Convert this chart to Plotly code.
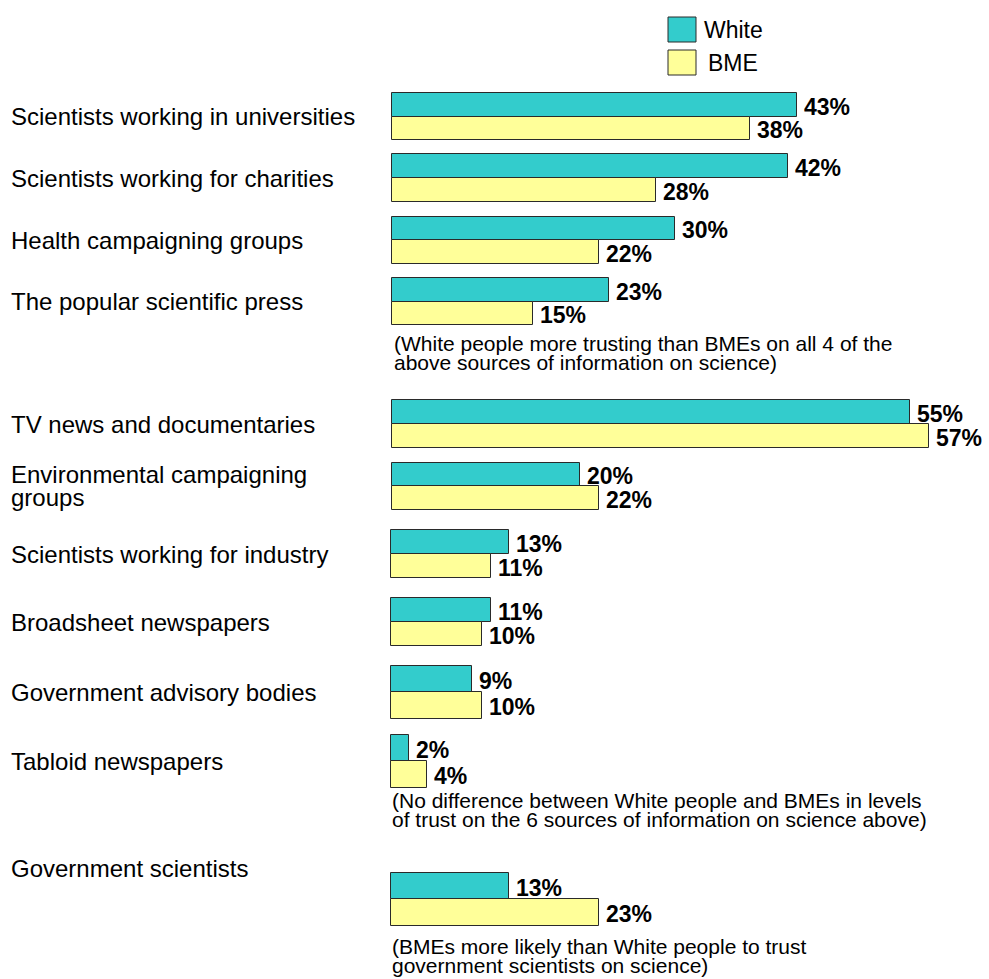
import plotly.graph_objects as go

# ---- data ----
categories = [
    "Scientists working in universities",
    "Scientists working for charities",
    "Health campaigning groups",
    "The popular scientific press",
    "TV news and documentaries",
    "Environmental campaigning\ngroups",
    "Scientists working for industry",
    "Broadsheet newspapers",
    "Government advisory bodies",
    "Tabloid newspapers",
    "Government scientists",
]
white = [43, 42, 30, 23, 55, 20, 13, 11, 9, 2, 13]
bme = [38, 28, 22, 15, 57, 22, 11, 10, 10, 4, 23]
series_names = ["White", "BME"]
notes = [
    "(White people more trusting than BMEs on all 4 of the\nabove sources of information on science)",
    "(No difference between White people and BMEs in levels\nof trust on the 6 sources of information on science above)",
    "(BMEs more likely than White people to trust\ngovernment scientists on science)",
]

# ---- layout (page pixel units) ----
W, H = 989, 979
ROW_CENTER = [116.5, 178, 240, 301.5, 424, 486, 554, 622, 692, 761, 899]
BAR_H = [23.5, 24, 23.5, 23.5, 24, 23.5, 24, 24, 26.5, 26.5, 26.5]
LABEL_SHIFT = [0, 0, 0, 0, 0, 0, 0, 0, 0, 0, -31]
UPPER_ROWS = 6  # first rows use the upper x scale
NOTE_Y = [343, 800, 946]
NOTE_X = [392, 390, 390]
LINE_GAP = 19

WHITE_C, BME_C, EDGE = "#33CCCC", "#FFFF99", "#2a2a2a"
FONT = "Liberation Sans, Arial, sans-serif"

# x scales: origin pixel and pixels per percent
X0_UP, K_UP = 392, 9.42
X0_LO, K_LO = 391, 9.05

fig = go.Figure()

groups = [(range(0, UPPER_ROWS), "x"), (range(UPPER_ROWS, len(categories)), "x2")]
for vals, color, sign, name in [(white, WHITE_C, -1, "White"), (bme, BME_C, 1, "BME")]:
    for idx, xa in groups:
        idx = list(idx)
        fig.add_trace(go.Bar(
            orientation="h",
            x=[vals[i] for i in idx],
            y=[ROW_CENTER[i] + sign * BAR_H[i] / 2 for i in idx],
            width=[BAR_H[i] for i in idx],
            marker=dict(color=color, line=dict(color=EDGE, width=1)),
            xaxis=xa, yaxis="y", name=name, showlegend=False,
            hoverinfo="skip",
        ))

annotations = []
# value labels
for i in range(len(categories)):
    xa = "x" if i < UPPER_ROWS else "x2"
    for vals, sign in [(white, -1), (bme, 1)]:
        annotations.append(dict(
            x=vals[i], y=ROW_CENTER[i] + sign * BAR_H[i] / 2 + 2,
            xref=xa, yref="y", text=f"<b>{vals[i]}%</b>",
            showarrow=False, xanchor="left", yanchor="middle", xshift=5,
            font=dict(family=FONT, size=23, color="black"),
        ))

# category labels
for i, cat in enumerate(categories):
    lines = cat.split("\n")
    n = len(lines)
    for j, ln in enumerate(lines):
        annotations.append(dict(
            x=9 / W, y=ROW_CENTER[i] + LABEL_SHIFT[i] + (j - (n - 1) / 2) * 23,
            xref="paper", yref="y", text=ln, showarrow=False,
            xanchor="left", yanchor="middle",
            font=dict(family=FONT, size=24, color="black"),
        ))

# notes
for k, note in enumerate(notes):
    for j, ln in enumerate(note.split("\n")):
        annotations.append(dict(
            x=NOTE_X[k] / W, y=NOTE_Y[k] + j * LINE_GAP,
            xref="paper", yref="y", text=ln, showarrow=False,
            xanchor="left", yanchor="middle",
            font=dict(family=FONT, size=21, color="black"),
        ))

# legend
shapes = []
for j, (name, color) in enumerate(zip(series_names, [WHITE_C, BME_C])):
    top = 17 + j * 33
    shapes.append(dict(
        type="rect", xref="paper", yref="y",
        x0=668 / W, x1=696 / W, y0=top, y1=top + 25,
        fillcolor=color, line=dict(color=EDGE, width=1),
    ))
    annotations.append(dict(
        x=(702 + j * 4) / W, y=top + 13, xref="paper", yref="y",
        text=name, showarrow=False, xanchor="left", yanchor="middle",
        font=dict(family=FONT, size=23, color="black"),
    ))

fig.update_layout(
    width=W, height=H,
    margin=dict(l=0, r=0, t=0, b=0),
    paper_bgcolor="white", plot_bgcolor="white",
    barmode="overlay", bargap=0,
    xaxis=dict(range=[-X0_UP / K_UP, (W - X0_UP) / K_UP], visible=False,
               domain=[0, 1], fixedrange=True),
    xaxis2=dict(range=[-X0_LO / K_LO, (W - X0_LO) / K_LO], visible=False,
                overlaying="x", fixedrange=True),
    yaxis=dict(range=[H, 0], visible=False, domain=[0, 1], fixedrange=True),
    annotations=annotations,
    shapes=shapes,
    showlegend=False,
)

fig.write_html("out.html")
